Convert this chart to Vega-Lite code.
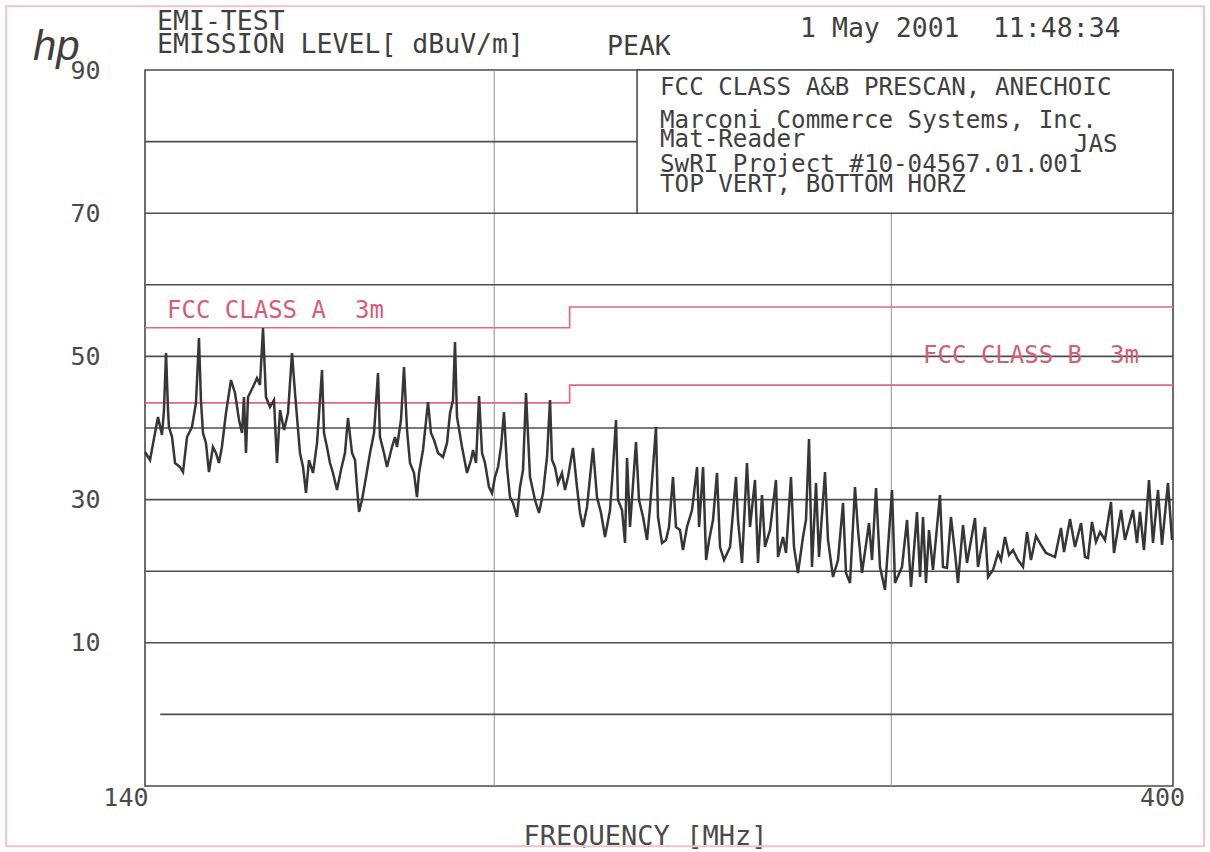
{
  "$schema": "https://vega.github.io/schema/vega-lite/v6.json",
  "width": 1028,
  "height": 716,
  "autosize": {"type": "none"},
  "padding": {"left": 145, "top": 70, "right": 37, "bottom": 66},
  "background": "white",
  "config": {
    "view": {"stroke": "#4a4a4a", "strokeWidth": 1.6},
    "font": "DejaVu Sans Mono"
  },
  "encoding": {
    "x": {
      "field": "f", "type": "quantitative",
      "scale": {"type": "log", "domain": [140, 400]},
      "axis": {
        "values": [140, 400],
        "grid": false, "domain": false, "ticks": false, "tickSize": 0,
        "labelFlush": false,
        "labelFont": "DejaVu Sans Mono", "labelFontSize": 25, "labelColor": "#4a4a4a",
        "labelBaseline": "top", "labelPadding": -1,
        "labelAlign": {"condition": {"test": "datum.value <= 140", "value": "right"}, "value": "center"},
        "labelOffset": {"condition": {"test": "datum.value <= 140", "value": 3}, "value": -11},
        "title": "FREQUENCY [MHz]",
        "titleFont": "DejaVu Sans Mono", "titleFontSize": 27, "titleFontWeight": "normal", "titleColor": "#4a4a4a",
        "titleX": 500, "titleY": 58, "titleAlign": "center", "titleBaseline": "alphabetic", "titleAnchor": null
      }
    },
    "y": {
      "field": "l", "type": "quantitative",
      "scale": {"domain": [-10, 90], "zero": false, "nice": false},
      "axis": {
        "values": [10, 30, 50, 70, 90],
        "grid": false, "domain": false, "ticks": false, "tickSize": 0,
        "labelFont": "DejaVu Sans Mono", "labelFontSize": 25, "labelColor": "#4a4a4a",
        "labelPadding": 45, "labelBaseline": "middle",
        "title": null
      }
    }
  },
  "datasets": {
    "trace": [
      {"f":140.0,"l":36.65},{"f":140.72,"l":35.53},{"f":141.44,"l":39.3},{"f":141.87,"l":41.54},{"f":142.45,"l":39.02},{"f":142.74,"l":42.51},{"f":143.04,"l":50.47},{"f":143.33,"l":42.5},{"f":143.47,"l":40.14},{"f":143.92,"l":38.74},
      {"f":144.36,"l":35.11},{"f":145.1,"l":34.55},{"f":145.54,"l":33.85},{"f":146.14,"l":38.74},{"f":146.88,"l":40.14},{"f":147.48,"l":43.49},{"f":147.93,"l":52.57},{"f":148.23,"l":43.91},{"f":148.54,"l":39.3},{"f":148.99,"l":37.91},
      {"f":149.45,"l":33.85},{"f":150.06,"l":37.35},{"f":150.52,"l":36.51},{"f":150.98,"l":35.11},{"f":151.44,"l":37.35},{"f":152.07,"l":42.09},{"f":152.85,"l":46.7},{"f":153.48,"l":44.89},{"f":154.11,"l":41.12},{"f":154.58,"l":39.3},
      {"f":154.89,"l":44.33},{"f":155.21,"l":36.51},{"f":155.53,"l":44.33},{"f":156.32,"l":45.73},{"f":156.96,"l":46.98},{"f":157.44,"l":46.0},{"f":157.93,"l":53.97},{"f":158.41,"l":44.33},{"f":159.06,"l":42.93},{"f":159.71,"l":43.91},
      {"f":160.2,"l":35.11},{"f":160.7,"l":42.51},{"f":161.36,"l":39.72},{"f":162.01,"l":42.09},{"f":162.68,"l":50.47},{"f":163.18,"l":44.89},{"f":164.01,"l":36.51},{"f":164.52,"l":34.55},{"f":165.02,"l":30.92},{"f":165.52,"l":35.53},
      {"f":166.21,"l":33.72},{"f":166.89,"l":37.91},{"f":167.74,"l":48.1},{"f":168.08,"l":39.3},{"f":168.59,"l":37.35},{"f":169.11,"l":35.11},{"f":169.63,"l":33.72},{"f":170.33,"l":31.34},{"f":171.02,"l":34.13},{"f":171.72,"l":36.51},
      {"f":172.25,"l":41.4},{"f":172.96,"l":36.51},{"f":173.49,"l":35.53},{"f":173.84,"l":31.76},{"f":174.2,"l":28.27},{"f":174.73,"l":29.94},{"f":175.45,"l":33.16},{"f":176.17,"l":36.51},{"f":176.89,"l":39.3},{"f":177.61,"l":47.68},
      {"f":177.97,"l":38.74},{"f":178.7,"l":36.51},{"f":179.25,"l":34.55},{"f":180.16,"l":37.35},{"f":180.72,"l":38.74},{"f":181.09,"l":37.35},{"f":181.83,"l":41.12},{"f":182.39,"l":48.52},{"f":182.95,"l":39.72},{"f":183.51,"l":35.11},
      {"f":184.26,"l":33.72},{"f":184.82,"l":30.36},{"f":185.21,"l":33.72},{"f":185.96,"l":36.93},{"f":186.92,"l":43.63},{"f":187.49,"l":39.3},{"f":188.07,"l":38.32},{"f":188.84,"l":36.51},{"f":189.8,"l":35.95},{"f":190.58,"l":37.91},
      {"f":191.17,"l":42.09},{"f":191.75,"l":43.91},{"f":192.14,"l":52.01},{"f":192.53,"l":41.54},{"f":193.52,"l":37.35},{"f":194.51,"l":33.72},{"f":195.31,"l":35.53},{"f":195.71,"l":36.93},{"f":196.31,"l":35.11},{"f":196.92,"l":44.47},
      {"f":197.52,"l":36.51},{"f":198.12,"l":35.11},{"f":198.93,"l":31.76},{"f":199.54,"l":30.92},{"f":200.15,"l":33.16},{"f":200.77,"l":34.55},{"f":201.38,"l":37.35},{"f":202.0,"l":42.23},{"f":202.62,"l":34.55},{"f":203.24,"l":30.36},
      {"f":203.86,"l":29.53},{"f":204.7,"l":27.57},{"f":205.33,"l":31.76},{"f":205.96,"l":34.13},{"f":206.59,"l":44.89},{"f":207.44,"l":33.16},{"f":208.5,"l":29.94},{"f":209.36,"l":28.13},{"f":210.21,"l":30.92},{"f":211.07,"l":35.95},
      {"f":211.72,"l":43.91},{"f":212.15,"l":35.53},{"f":212.8,"l":34.55},{"f":213.45,"l":32.32},{"f":214.32,"l":33.72},{"f":214.98,"l":31.34},{"f":215.64,"l":33.16},{"f":216.74,"l":37.21},{"f":217.63,"l":31.76},{"f":218.3,"l":28.13},
      {"f":218.97,"l":26.17},{"f":219.87,"l":28.97},{"f":221.22,"l":37.21},{"f":222.12,"l":30.36},{"f":223.04,"l":28.13},{"f":223.95,"l":24.78},{"f":225.1,"l":28.55},{"f":225.79,"l":34.55},{"f":226.48,"l":41.12},{"f":226.94,"l":29.94},
      {"f":227.87,"l":28.55},{"f":228.57,"l":23.94},{"f":229.04,"l":35.81},{"f":229.74,"l":26.17},{"f":231.15,"l":38.04},{"f":231.86,"l":29.94},{"f":232.82,"l":27.57},{"f":233.77,"l":24.36},{"f":234.49,"l":28.97},{"f":235.92,"l":40.14},
      {"f":236.4,"l":27.57},{"f":237.37,"l":23.94},{"f":238.34,"l":24.36},{"f":239.07,"l":26.17},{"f":240.05,"l":33.16},{"f":240.78,"l":26.17},{"f":241.77,"l":25.75},{"f":242.51,"l":22.96},{"f":243.5,"l":26.17},{"f":244.76,"l":28.55},
      {"f":246.02,"l":34.55},{"f":246.53,"l":26.17},{"f":247.54,"l":34.55},{"f":248.31,"l":21.56},{"f":249.07,"l":24.36},{"f":250.06,"l":27.15},{"f":251.09,"l":33.72},{"f":251.86,"l":23.38},{"f":252.9,"l":21.56},{"f":254.45,"l":23.38},
      {"f":256.0,"l":33.16},{"f":256.53,"l":27.15},{"f":257.58,"l":21.15},{"f":258.89,"l":35.11},{"f":259.69,"l":26.17},{"f":261.02,"l":32.74},{"f":261.82,"l":21.15},{"f":262.89,"l":30.64},{"f":263.7,"l":23.38},{"f":265.05,"l":25.75},
      {"f":266.68,"l":32.74},{"f":267.23,"l":21.98},{"f":268.59,"l":24.78},{"f":269.42,"l":22.54},{"f":270.79,"l":33.16},{"f":271.62,"l":23.38},{"f":272.73,"l":19.75},{"f":274.13,"l":24.78},{"f":274.97,"l":27.15},{"f":275.82,"l":38.46},
      {"f":276.66,"l":20.59},{"f":277.8,"l":32.32},{"f":278.65,"l":21.98},{"f":280.36,"l":33.85},{"f":281.22,"l":24.36},{"f":282.66,"l":19.19},{"f":284.11,"l":21.56},{"f":285.57,"l":29.53},{"f":286.44,"l":19.75},{"f":287.62,"l":18.35},
      {"f":289.08,"l":31.76},{"f":289.97,"l":25.75},{"f":291.16,"l":19.75},{"f":293.25,"l":26.73},{"f":294.15,"l":21.56},{"f":295.36,"l":31.62},{"f":296.56,"l":20.59},{"f":298.08,"l":17.37},{"f":300.22,"l":31.34},{"f":301.14,"l":18.35},
      {"f":303.3,"l":20.59},{"f":304.86,"l":27.15},{"f":306.1,"l":17.79},{"f":307.98,"l":28.27},{"f":308.93,"l":19.19},{"f":309.88,"l":27.57},{"f":310.82,"l":18.35},{"f":311.78,"l":25.75},{"f":313.05,"l":20.17},{"f":315.29,"l":30.64},
      {"f":316.26,"l":20.59},{"f":317.55,"l":20.45},{"f":318.85,"l":27.57},{"f":320.17,"l":22.54},{"f":321.15,"l":18.35},{"f":322.79,"l":26.45},{"f":324.11,"l":21.15},{"f":326.77,"l":27.43},{"f":327.77,"l":20.59},{"f":330.13,"l":26.17},
      {"f":331.15,"l":19.19},{"f":332.83,"l":20.17},{"f":334.54,"l":22.54},{"f":335.57,"l":21.56},{"f":336.94,"l":24.78},{"f":338.32,"l":22.26},{"f":339.71,"l":22.96},{"f":341.45,"l":21.56},{"f":343.19,"l":20.59},{"f":344.6,"l":25.47},
      {"f":346.0,"l":21.56},{"f":347.78,"l":24.92},{"f":349.56,"l":23.66},{"f":351.35,"l":22.54},{"f":354.59,"l":21.98},{"f":356.77,"l":26.03},{"f":357.86,"l":22.68},{"f":360.07,"l":27.29},{"f":361.91,"l":23.38},{"f":364.14,"l":26.73},
      {"f":365.62,"l":21.98},{"f":366.74,"l":21.84},{"f":368.24,"l":26.87},{"f":369.75,"l":24.08},{"f":371.27,"l":25.47},{"f":373.16,"l":24.36},{"f":375.46,"l":29.66},{"f":376.61,"l":22.54},{"f":379.32,"l":28.55},{"f":380.86,"l":24.36},
      {"f":383.98,"l":28.55},{"f":385.56,"l":23.94},{"f":386.74,"l":28.27},{"f":388.32,"l":22.96},{"f":390.31,"l":32.74},{"f":391.91,"l":23.94},{"f":393.92,"l":31.34},{"f":395.53,"l":23.66},{"f":397.95,"l":32.32},{"f":399.6,"l":24.36}
    ],
    "limits": [
      {"i":0,"cls":"A","f":140,"l":54.0},{"i":1,"cls":"A","f":216,"l":54.0},{"i":2,"cls":"A","f":216,"l":56.9},{"i":3,"cls":"A","f":400,"l":56.9},
      {"i":0,"cls":"B","f":140,"l":43.5},{"i":1,"cls":"B","f":216,"l":43.5},{"i":2,"cls":"B","f":216,"l":46.0},{"i":3,"cls":"B","f":400,"l":46.0}
    ],
    "hgrid": [
      {"l":80,"f":140,"f2":400},{"l":70,"f":140,"f2":400},{"l":60,"f":140,"f2":400},{"l":50,"f":140,"f2":400},{"l":40,"f":140,"f2":400},
      {"l":30,"f":140,"f2":400},{"l":20,"f":140,"f2":400},{"l":10,"f":140,"f2":400},{"l":0,"f":142.2,"f2":400}
    ],
    "vgrid": [{"f":200,"l":-10,"l2":90},{"f":300,"l":-10,"l2":90}],
    "box": [{"f":231.4,"f2":400,"l":70,"l2":90}],
    "page": [{"f":121.5,"f2":412.9,"l":-18.4,"l2":98.9}],
    "boxtext": [
      {"f":236.9,"l":86.51,"txt":"FCC CLASS A&B PRESCAN, ANECHOIC"},
      {"f":236.9,"l":81.9,"txt":"Marconi Commerce Systems, Inc."},
      {"f":236.9,"l":79.25,"txt":"Mat-Reader"},
      {"f":361.5,"l":78.55,"txt":"JAS"},
      {"f":236.9,"l":75.75,"txt":"SwRI Project #10-04567.01.001"},
      {"f":236.9,"l":72.96,"txt":"TOP VERT, BOTTOM HORZ"}
    ],
    "header": [
      {"f":141.73,"l":95.58,"txt":"EMI-TEST"},
      {"f":141.73,"l":92.37,"txt":"EMISSION LEVEL[ dBuV/m]"},
      {"f":224.4,"l":92.09,"txt":"PEAK"},
      {"f":273.3,"l":94.61,"txt":"1 May 2001"},
      {"f":332.8,"l":94.61,"txt":"11:48:34"}
    ],
    "logo": [{"f":124.87,"l":91.4,"txt":"hp"}],
    "redtext": [
      {"f":143.18,"l":55.36,"txt":"FCC CLASS A"},
      {"f":173.49,"l":55.36,"txt":"3m"},
      {"f":309.9,"l":49.08,"txt":"FCC CLASS B"},
      {"f":375.1,"l":49.08,"txt":"3m"}
    ]
  },
  "layer": [
    {
      "data": {"name": "page"},
      "mark": {"type": "rect", "fill": null, "fillOpacity": 0, "stroke": "#efc3cb", "strokeWidth": 2},
      "encoding": {"x2": {"field": "f2"}, "y2": {"field": "l2"}}
    },
    {
      "data": {"name": "vgrid"},
      "mark": {"type": "rule", "stroke": "#9a9a9a", "strokeWidth": 1.1},
      "encoding": {"y2": {"field": "l2"}}
    },
    {
      "data": {"name": "hgrid"},
      "mark": {"type": "rule", "stroke": "#4d4d4d", "strokeWidth": 1.6},
      "encoding": {"x2": {"field": "f2"}}
    },
    {
      "data": {"name": "box"},
      "mark": {"type": "rect", "fill": "white", "stroke": "#4d4d4d", "strokeWidth": 1.6},
      "encoding": {"x2": {"field": "f2"}, "y2": {"field": "l2"}}
    },
    {
      "data": {"name": "limits"},
      "mark": {"type": "line", "stroke": "#e0697f", "strokeWidth": 1.7},
      "encoding": {"detail": {"field": "cls"}, "order": {"field": "i"}}
    },
    {
      "data": {"name": "trace"},
      "mark": {"type": "line", "stroke": "#363636", "strokeWidth": 2.5, "strokeJoin": "miter"},
      "encoding": {}
    },
    {
      "data": {"name": "boxtext"},
      "mark": {"type": "text", "align": "left", "baseline": "alphabetic", "font": "DejaVu Sans Mono", "fontSize": 24.2, "fill": "#3f3f3f"},
      "encoding": {"text": {"field": "txt"}}
    },
    {
      "data": {"name": "header"},
      "mark": {"type": "text", "align": "left", "baseline": "alphabetic", "font": "DejaVu Sans Mono", "fontSize": 26.5, "fill": "#3f3f3f"},
      "encoding": {"text": {"field": "txt"}}
    },
    {
      "data": {"name": "logo"},
      "mark": {"type": "text", "align": "left", "baseline": "alphabetic", "font": "Liberation Sans", "fontStyle": "italic", "fontSize": 42, "fill": "#3f3f3f"},
      "encoding": {"text": {"field": "txt"}}
    },
    {
      "data": {"name": "redtext"},
      "mark": {"type": "text", "align": "left", "baseline": "alphabetic", "font": "DejaVu Sans Mono", "fontSize": 24, "fill": "#d65d75"},
      "encoding": {"text": {"field": "txt"}}
    }
  ]
}
